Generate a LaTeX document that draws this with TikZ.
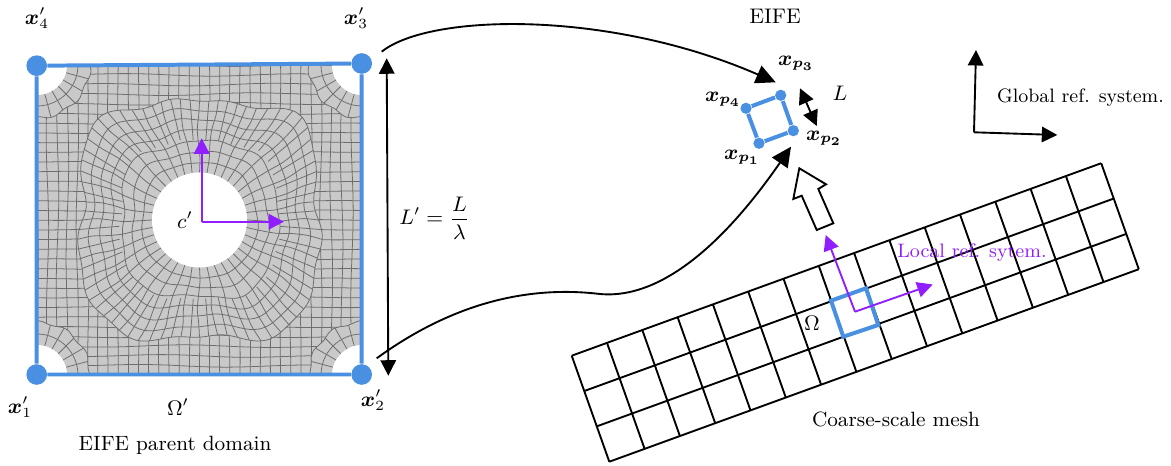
\documentclass[tikz,border=0pt]{standalone}
\usepackage{amsmath, amssymb, bm}
\usetikzlibrary{arrows.meta}
\definecolor{eifeblue}{HTML}{4A90E2}
\definecolor{eifepurple}{HTML}{911EFF}
\definecolor{meshgray}{HTML}{C9C9C9}
\definecolor{meshline}{HTML}{6E6E6E}

\begin{document}
\begin{tikzpicture}[x=0.015cm, y=-0.015cm, >={Triangle[length=6.6pt,width=6.6pt]},
    every node/.append style={font=\small},
    declare function={rout(\t)=(118+3*sin(7*\t+20)+2*sin(13*\t))/sqrt(sqrt(cos(\t)*cos(\t)*cos(\t)*cos(\t)+sin(\t)*sin(\t)*sin(\t)*sin(\t)));
      rcorner(\t)=53+1.5*sin(11*\t);},
    meshedge/.style={meshline, line width=0.33pt},
    blueedge/.style={eifeblue, line width=1.7pt},
    bluedot/.style={circle,fill=eifeblue,inner sep=0pt,minimum size=8.8pt},
    smalldot/.style={circle,fill=eifeblue,inner sep=0pt,minimum size=4.8pt},
    blackedge/.style={black, line width=0.8pt},
    bigtip/.style={-{Triangle[length=8.4pt,width=8pt]}},
    purpleaxis/.style={->,eifepurple, line width=0.8pt}]
  \useasboundingbox (0,0) rectangle (1171,466);
  % parent domain with its mesh
  \begin{scope}
    \clip (37,65) rectangle (362,375);
    \fill[meshgray] (37,65) rectangle (362,375);
    % outer structured part
    \foreach \i in {0,...,32} {
      \draw[meshedge,domain=37:362,samples=28,smooth]
        plot (\x,{65+9.7*\i+1.5*sin(1.9*\x+47*\i)*sin(0.55*(\x-37))});
      \draw[meshedge,domain=65:375,samples=28,smooth]
        plot ({37+10.15*\i+1.5*sin(1.7*\x+61*\i)*sin(0.58*(\x-65))},\x);
    }
    % rings around the hole, going over to a rounded square
    \fill[meshgray,domain=0:360,samples=90] plot ({199.5+rout(\x)*cos(\x)},{220+rout(\x)*sin(\x)}) -- cycle;
    \foreach \k in {1,...,7} {
      \draw[meshedge,domain=0:360,samples=90,smooth]
        plot ({199.5+(47.5+\k*(rout(\x)-47.5)/7+2*sin(5*\x+40*\k)*sin(180*\k/7))*cos(\x)},
              {220+(47.5+\k*(rout(\x)-47.5)/7+2*sin(5*\x+40*\k)*sin(180*\k/7))*sin(\x)});
    }
    \foreach \a in {0,9,...,351} {
      \draw[meshedge,domain=0:1,samples=6,smooth]
        plot ({199.5+(47.5+\x*(rout(\a)-47.5))*cos(\a+1.5*sin(3*\a+300*\x)*sin(180*\x))},
              {220+(47.5+\x*(rout(\a)-47.5))*sin(\a+1.5*sin(3*\a+300*\x)*sin(180*\x))});
      \draw[meshedge,domain=0.45:1,samples=4,smooth]
        plot ({199.5+(47.5+\x*(rout(\a+4.5)-47.5))*cos(\a+4.5)},
              {220+(47.5+\x*(rout(\a+4.5)-47.5))*sin(\a+4.5)});
    }
    % corner patches
    \foreach \cx/\cy in {37/65,362/65,37/375,362/375} {
      \fill[meshgray,domain=0:360,samples=48] plot ({\cx+rcorner(\x)*cos(\x)},{\cy+rcorner(\x)*sin(\x)}) -- cycle;
      \draw[meshedge,domain=0:360,samples=48,smooth] plot ({\cx+rcorner(\x)*cos(\x)},{\cy+rcorner(\x)*sin(\x)}) -- cycle;
      \draw[meshedge] (\cx,\cy) circle[radius=41];
      \foreach \a in {0,15,...,345} {
        \draw[meshedge] ({\cx+30*cos(\a)},{\cy+30*sin(\a)}) -- ({\cx+rcorner(\a)*cos(\a)},{\cy+rcorner(\a)*sin(\a)});
      }
      \fill[white] (\cx,\cy) circle[radius=30];
    }
    \fill[white] (199.5,220) circle[radius=47.5];
  \end{scope}
  % parent domain outline
  \node[bluedot] (n1) at (36.7,374.5) {};
  \node[bluedot] (n2) at (361.7,374.5) {};
  \node[bluedot] (n3) at (361.7,63.5) {};
  \node[bluedot] (n4) at (36.7,65.7) {};
  \draw[blueedge] (n1) -- (n2) -- (n3) -- (n4) -- (n1);
  \node (x1) at (20,407) {$\bm{x}'_1$};
  \node (x2) at (373,400) {$\bm{x}'_2$};
  \node (x3) at (356,18) {$\bm{x}'_3$};
  \node (x4) at (37,18) {$\bm{x}'_4$};
  \node (omegap) at (178,407) {$\Omega'$};
  \node[scale=0.98] (parent) at (175,445) {EIFE parent domain};
  % local axes of parent domain
  \coordinate (c0) at (201.7,221.7);
  \coordinate (cy) at (201.7,138.3);
  \coordinate (cx) at (284,221.7);
  \draw[purpleaxis] (c0) -- (cy);
  \draw[purpleaxis] (c0) -- (cx);
  \node (cp) at (185,220) {$c'$};
  % size of parent domain
  \coordinate (la) at (386.7,58.3);
  \coordinate (lb) at (388.3,375.7);
  \draw[<->,blackedge] (la) -- (lb);
  \node (lp) at (434.5,218) {$L'=\dfrac{L}{\lambda}$};
  % mapping curves
  \coordinate (ca) at (381.7,51.7);
  \coordinate (cb) at (775.7,82.3);
  \coordinate (cc) at (376.7,358.3);
  \coordinate (cd) at (791,146.7);
  \coordinate (ce) at (600,294);
  \draw[bigtip,blackedge] (ca) .. controls (430,13) and (610,10) .. (cb);
  \draw[bigtip,blackedge] (cc) .. controls (450,305) and (525,285) .. (ce) .. controls (665,300) and (730,235) .. (cd);
  % EIFE element
  \node (eife) at (775,16) {EIFE};
  \node[smalldot] (p1) at (759,143.3) {};
  \node[smalldot] (p2) at (793.3,130.7) {};
  \node[smalldot] (p3) at (780.7,95.3) {};
  \node[smalldot] (p4) at (746,108.3) {};
  \draw[blueedge] (p1) -- (p2) -- (p3) -- (p4) -- (p1);
  \node (xp1) at (742,157) {$\bm{x_{p_1}}$};
  \node (xp2) at (824,138) {$\bm{x_{p_2}}$};
  \node (xp3) at (796,63) {$\bm{x_{p_3}}$};
  \node (xp4) at (723,99) {$\bm{x_{p_4}}$};
  \coordinate (da) at (800,88.3);
  \coordinate (db) at (816.7,126);
  \draw[<->,blackedge] (da) -- (db);
  \node (ll) at (840,93) {$L$};
  % hollow arrow
  \draw[blackedge,fill=white] (799.3,168.3) -- (826,184.3) -- (818.3,189) -- (833.3,223.3)
    -- (816.7,230) -- (801.7,195.7) -- (793.3,199) -- cycle;
  % global axes
  \coordinate (g0) at (974,132.3);
  \coordinate (gy) at (976,50);
  \coordinate (gx) at (1057.3,135);
  \draw[->,blackedge] (g0) -- (gy);
  \draw[->,blackedge] (g0) -- (gx);
  \node[scale=0.92] (global) at (1080.5,97.5) {Global ref. system.};
  % coarse mesh
  \foreach \i in {0,...,15} {
    \draw[blackedge] ({571.7+35.3*\i},{355.7-12.83*\i}) -- ({609.3+35.3*\i},{461.7-12.83*\i});
  }
  \foreach \j in {0,...,3} {
    \draw[blackedge] ({571.7+12.53*\j},{355.7+35.33*\j}) -- ({1101+12.53*\j},{163.3+35.33*\j});
  }
  \node[scale=0.98] (mesh) at (896,419) {Coarse-scale mesh};
  \node (omega) at (812,323) {$\Omega$};
  % coarse element and local axes
  \draw[blueedge] (831,300.7) -- (866,288.3) -- (878.3,325) -- (843.3,336.7) -- cycle;
  \coordinate (l0) at (855,311.7);
  \coordinate (ly) at (825.7,235);
  \coordinate (lx) at (932.7,284.5);
  \draw[purpleaxis] (l0) -- (ly);
  \draw[purpleaxis] (l0) -- (lx);
  \node[eifepurple,scale=0.925] (local) at (972,253) {Local ref. sytem.};
\end{tikzpicture}
\end{document}
